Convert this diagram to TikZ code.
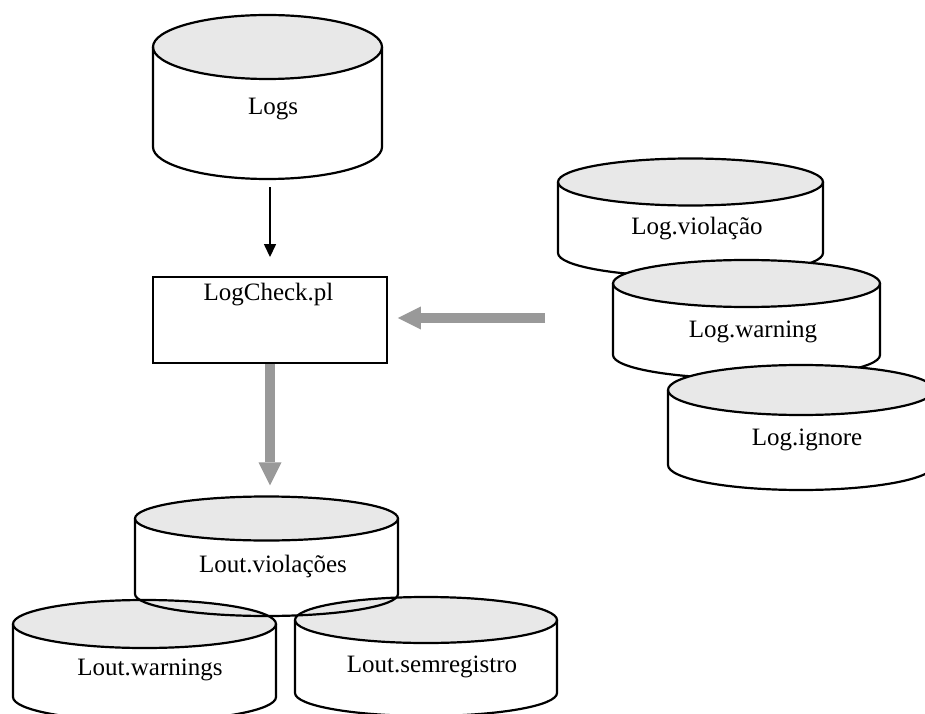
\documentclass[tikz,border=0pt]{standalone}
\usepackage{fontspec}
\setmainfont{Liberation Serif}
\usetikzlibrary{arrows.meta}

\tikzset{
  lbl/.style={font=\fontsize{25}{30}\selectfont, inner sep=0pt, text height=0.7em, text depth=0.22em},
  cylline/.style={line width=2.2pt, line join=round},
  capfill/.style={fill=black!9},
  bodyfill/.style={fill=white},
  fatarrow/.style={line width=10pt, color=black!40, line cap=butt,
    -{Triangle[width=23pt,length=23pt,line width=0pt]}},
  thinarrow/.style={line width=1.4pt, -{Triangle[width=12pt,length=13pt]}},
  procbox/.style={draw, line width=1.9pt, minimum width=234pt, minimum height=86pt, inner sep=0pt},
}

% cylinder pieces: #1 cx, #2 centre y of the top cap, #3 x radius, #4 y radius, #5 centre y of the base
\newcommand\cylbody[5]{%
  \path[bodyfill] ({#1-#3},{#2}) -- ({#1-#3},{#5})
    arc[start angle=180,end angle=360,x radius=#3,y radius=#4] -- ({#1+#3},{#2})
    arc[start angle=0,end angle=180,x radius=#3,y radius=#4] -- cycle;
  \path[capfill] (#1,#2) ellipse[x radius=#3,y radius=#4];
}
\newcommand\cylrim[5]{%
  \draw[cylline] (#1,#2) ellipse[x radius=#3,y radius=#4];
  \draw[cylline] ({#1-#3},{#2}) -- ({#1-#3},{#5})
    arc[start angle=180,end angle=360,x radius=#3,y radius=#4] -- ({#1+#3},{#2});
}
% invisible node spanning a cylinder: #1 name, then cx, top y, rx, ry, base y
\newcommand\cylarea[6]{%
  \node[inner sep=0pt, minimum width={2*#4}, minimum height={#3-#6+2*#5}] (#1) at ({#2},{(#3+#6)/2}) {};
}

\begin{document}
\begin{tikzpicture}[x=1pt,y=1pt]
\path[use as bounding box, fill=white] (0,0) rectangle (925,713);
\clip (0,0) rectangle (925,713);

% source log store
\cylbody{267.5}{666}{114.5}{32}{566}
\cylrim{267.5}{666}{114.5}{32}{566}
\cylarea{logs}{267.5}{666}{114.5}{32}{566}
\node[lbl] (logs-t) at (273,601) {Logs};

% checker script
\node[procbox] (check) at (270,393) {};
\node[lbl] (check-t) at (268.5,415) {LogCheck.pl};

% rule files
\cylbody{690.5}{531}{132.5}{23.5}{460}
\cylrim{690.5}{531}{132.5}{23.5}{460}
\cylarea{rviol}{690.5}{531}{132.5}{23.5}{460}
\node[lbl] (rviol-t) at (697,481) {Log.violação};

\cylbody{746.5}{429.5}{133.5}{23.5}{358}
\cylrim{746.5}{429.5}{133.5}{23.5}{358}
\cylarea{rwarn}{746.5}{429.5}{133.5}{23.5}{358}
\node[lbl] (rwarn-t) at (753,378) {Log.warning};

\cylbody{801}{323}{133}{25}{248}
\cylrim{801}{323}{133}{25}{248}
\cylarea{rign}{801}{323}{133}{25}{248}
\node[lbl] (rign-t) at (807,270) {Log.ignore};

% output files: fills first, outlines after
\cylbody{266.5}{194.5}{131.5}{22}{119}
\cylbody{144.5}{89}{131.5}{24}{16}
\cylbody{426}{93}{131}{23}{20}
\cylrim{266.5}{194.5}{131.5}{22}{119}
\cylrim{144.5}{89}{131.5}{24}{16}
\cylrim{426}{93}{131}{23}{20}
\cylarea{lviol}{266.5}{194.5}{131.5}{22}{119}
\cylarea{lwarn}{144.5}{89}{131.5}{24}{16}
\cylarea{lsem}{426}{93}{131}{23}{20}
\node[lbl] (lviol-t) at (273,143) {Lout.violações};
\node[lbl] (lwarn-t) at (150,40) {Lout.warnings};
\node[lbl] (lsem-t) at (432,43) {Lout.semregistro};

% connectors
\draw[thinarrow, shorten <=8pt, shorten >=19pt] (check.north |- logs.south) -- (check.north);
\coordinate (feed) at (545,395);
\draw[fatarrow, shorten >=10pt] (feed) -- (check.east |- feed);
\draw[fatarrow, shorten >=11pt] (check.south) -- (check.south |- lviol.north);
\end{tikzpicture}
\end{document}
